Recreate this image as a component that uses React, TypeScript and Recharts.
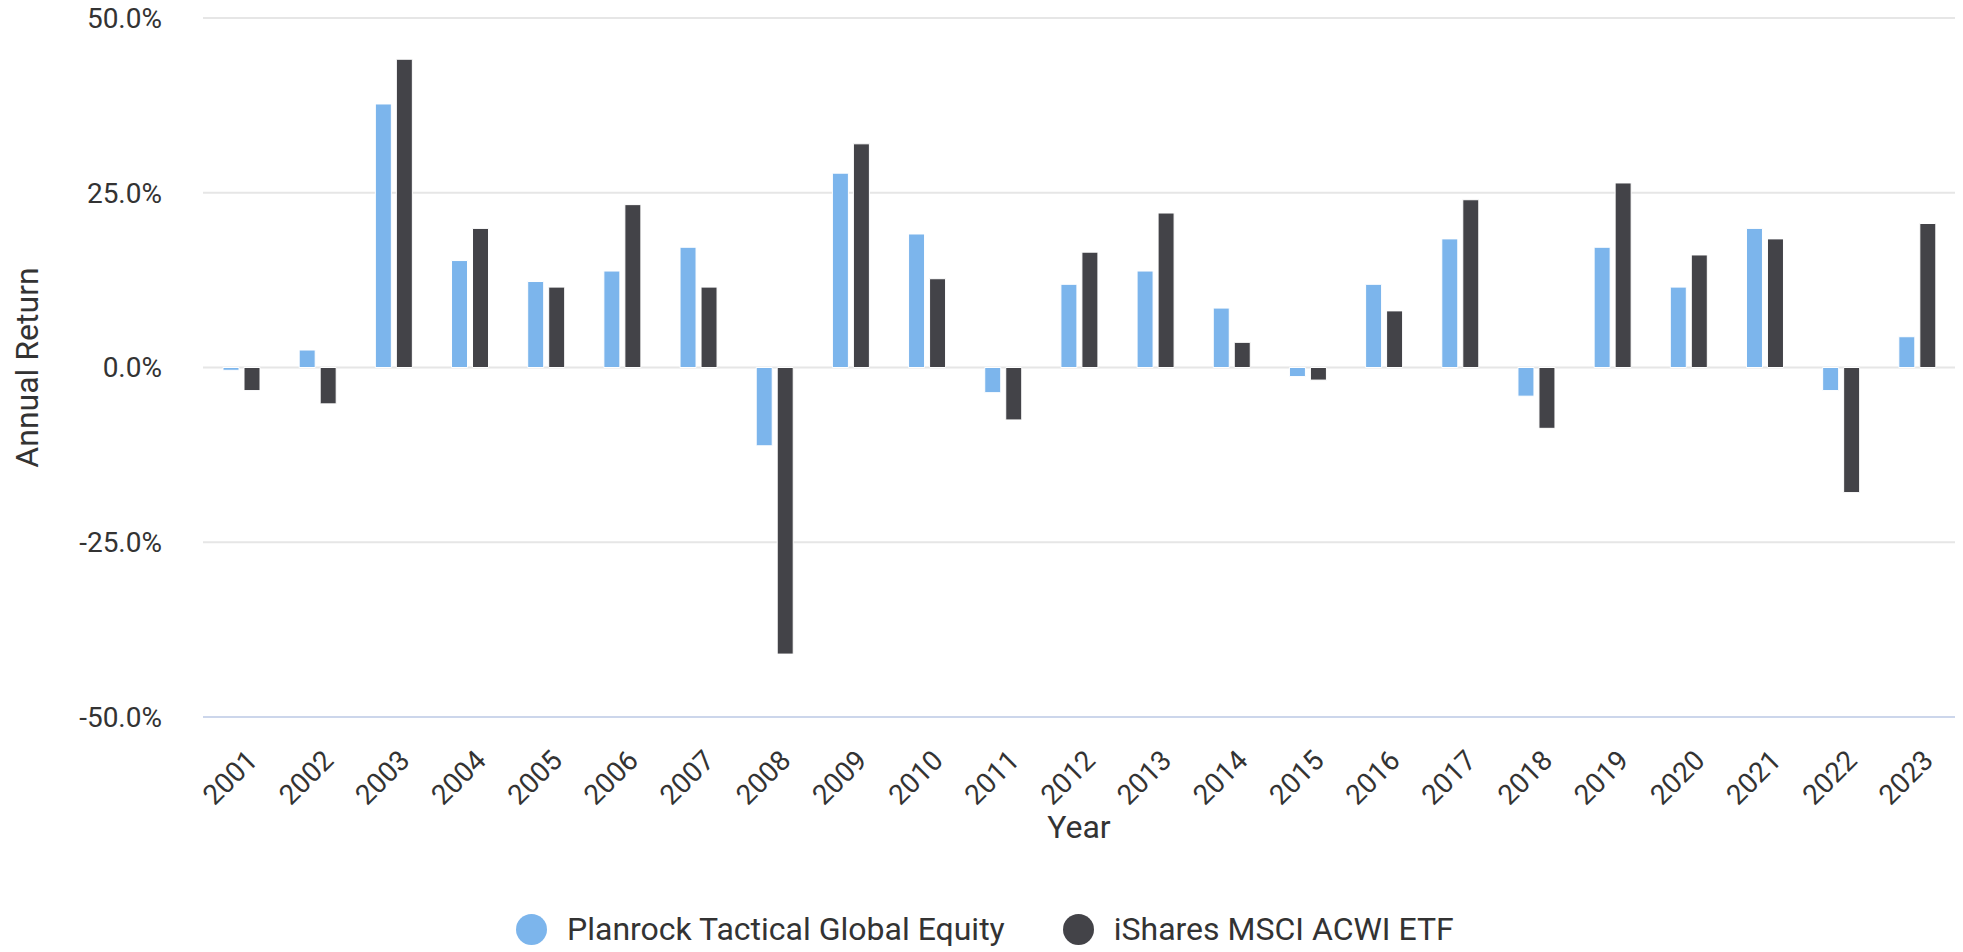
import React from 'react';
import { BarChart, Bar, XAxis, YAxis, CartesianGrid, Label } from 'recharts';

const years = [
  '2001', '2002', '2003', '2004', '2005', '2006', '2007', '2008', '2009', '2010', '2011', '2012',
  '2013', '2014', '2015', '2016', '2017', '2018', '2019', '2020', '2021', '2022', '2023',
];
const planrockReturns = [
  -0.4, 2.5, 37.7, 15.3, 12.3, 13.8, 17.2, -11.2, 27.8, 19.1, -3.6, 11.9,
  13.8, 8.5, -1.3, 11.9, 18.4, -4.1, 17.2, 11.5, 19.9, -3.3, 4.4,
];
const acwiReturns = [
  -3.3, -5.2, 44.1, 19.9, 11.5, 23.3, 11.5, -41.0, 32.0, 12.7, -7.5, 16.5,
  22.1, 3.6, -1.8, 8.1, 24.0, -8.7, 26.4, 16.1, 18.4, -17.9, 20.6,
];
const yTicks = [-50, -25, 0, 25, 50];
const seriesKeys = ['planrock', 'acwi'];
const seriesNames = ['Planrock Tactical Global Equity', 'iShares MSCI ACWI ETF'];
const seriesColors = ['#7cb5ec', '#434348'];

const chartData = years.map((year, i) => ({
  year,
  planrock: planrockReturns[i],
  acwi: acwiReturns[i],
}));

const FONT = 'Roboto, sans-serif';
const TEXT = '#333333';

// rotated year labels, end of text sits just right of the category centre
const YearTick = ({ x, y, payload }: any) => {
  const tx = x + 18;
  const ty = y + 45;
  return (
    <text
      x={tx}
      y={ty}
      transform={`rotate(-45, ${tx}, ${ty})`}
      textAnchor="end"
      fontSize={28}
      fill={TEXT}
      fontFamily={FONT}
    >
      {payload.value}
    </text>
  );
};

const YTitle = ({ viewBox }: any) => {
  const cy = viewBox ? viewBox.y + viewBox.height / 2 : 367;
  return (
    <text
      x={38}
      y={cy}
      transform={`rotate(-90, 38, ${cy})`}
      textAnchor="middle"
      fontSize={32}
      fill={TEXT}
      fontFamily={FONT}
    >
      Annual Return
    </text>
  );
};

const XTitle = ({ viewBox }: any) => {
  const cx = viewBox ? viewBox.x + viewBox.width / 2 : 1079;
  const y = viewBox ? viewBox.y + 121 : 838;
  return (
    <text x={cx} y={y} textAnchor="middle" fontSize={32} fill={TEXT} fontFamily={FONT}>
      Year
    </text>
  );
};

export default function App() {
  return (
    <div
      style={{
        position: 'absolute',
        left: 0,
        top: 0,
        width: 1963,
        height: 952,
        background: '#ffffff',
        fontFamily: FONT,
      }}
    >
      <BarChart
        width={1963}
        height={952}
        data={chartData}
        margin={{ top: 18, right: 8, left: 0, bottom: 0 }}
        barGap={5}
      >
        <CartesianGrid vertical={false} stroke="#e6e6e6" strokeWidth={2} />
        <XAxis
          dataKey="year"
          height={235}
          interval={0}
          tickLine={false}
          tickSize={0}
          tickMargin={0}
          axisLine={{ stroke: '#ccd6eb', strokeWidth: 2 }}
          tick={<YearTick />}
        >
          <Label content={<XTitle />} />
        </XAxis>
        <YAxis
          width={203}
          domain={[-50, 50]}
          ticks={yTicks}
          interval={0}
          axisLine={false}
          tickLine={false}
          tickSize={0}
          tickMargin={41}
          tickFormatter={(v: number) => `${v.toFixed(1)}%`}
          tick={{ fontSize: 28, fill: TEXT, fontFamily: FONT }}
        >
          <Label content={<YTitle />} />
        </YAxis>
        {seriesKeys.map((key, i) => (
          <Bar
            key={key}
            dataKey={key}
            name={seriesNames[i]}
            fill={seriesColors[i]}
            stroke="#ffffff"
            strokeWidth={1}
            barSize={16}
            isAnimationActive={false}
          />
        ))}
      </BarChart>

      {/* legend */}
      <div
        style={{
          position: 'absolute',
          left: 516,
          top: 909,
          height: 40,
          display: 'flex',
          alignItems: 'center',
          gap: 58,
        }}
      >
        {seriesNames.map((name, i) => (
          <div key={name} style={{ display: 'flex', alignItems: 'center' }}>
            <span
              style={{
                width: 31,
                height: 31,
                borderRadius: '50%',
                background: seriesColors[i],
                marginRight: 20,
                display: 'inline-block',
              }}
            />
            <span style={{ fontSize: 32, color: TEXT, lineHeight: '40px' }}>{name}</span>
          </div>
        ))}
      </div>
    </div>
  );
}
